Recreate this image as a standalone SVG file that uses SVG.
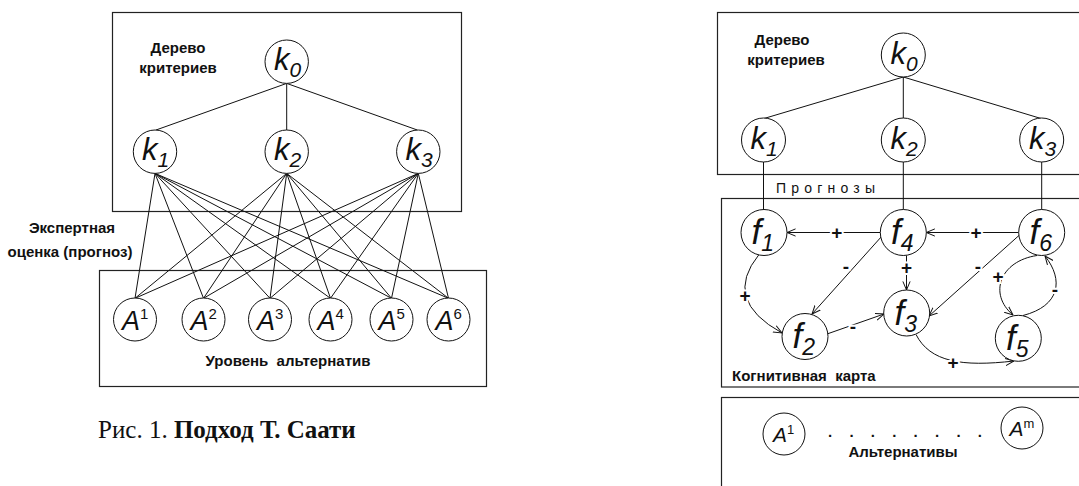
<svg xmlns="http://www.w3.org/2000/svg" width="1079" height="486" viewBox="0 0 1079 486">
  <style>
    .box { fill: none; stroke: #222; stroke-width: 1.2; }
    .node { fill: #fff; stroke: #111; stroke-width: 1; }
    .edge { fill: none; stroke: #111; stroke-width: 1; }
    .arr { fill: none; stroke: #111; stroke-width: 1; marker-end: url(#open); }
    .lbl { font-family: "Liberation Sans", Arial, sans-serif; font-weight: bold; font-size: 15px; fill: #111; }
    .sign { font-family: "Liberation Sans", Arial, sans-serif; font-weight: bold; font-size: 19px; fill: #111; text-anchor: middle; stroke: #fff; stroke-width: 4; paint-order: stroke; }
    .kv { font-family: "Liberation Sans", Arial, sans-serif; font-style: italic; font-size: 31px; fill: #111; }
    .sub { font-size: 21px; }
    .fv { font-family: "Liberation Sans", Arial, sans-serif; font-style: italic; font-size: 35px; fill: #111; }
    .fsub { font-size: 23px; }
    .av { font-family: "Liberation Sans", Arial, sans-serif; font-style: italic; font-size: 27px; fill: #111; }
    .avs { font-family: "Liberation Sans", Arial, sans-serif; font-style: italic; font-size: 21px; fill: #111; }
    .sup { font-style: normal; font-size: 15px; }
    .sups { font-style: normal; font-size: 13px; }
    .cap { font-family: "Liberation Serif", "Times New Roman", serif; font-size: 25px; fill: #111; }
  </style>
  <defs>
    <marker id="open" viewBox="0 0 10 10" refX="9.5" refY="5" markerWidth="9" markerHeight="9" markerUnits="userSpaceOnUse" orient="auto">
      <path d="M0,1 L9.5,5 L0,9" fill="none" stroke="#111" stroke-width="1.1"/>
    </marker>
  </defs>
  <rect width="1079" height="486" fill="#fff"/>

  <!-- ===== Left: Saaty hierarchy ===== -->
  <g id="saaty-frames">
    <rect class="box" x="112.5" y="12.5" width="349" height="199"/>
    <rect class="box" x="99.5" y="270.5" width="387" height="116"/>
    <text class="lbl" x="178" y="53" text-anchor="middle">Дерево</text>
    <text class="lbl" x="178" y="73" text-anchor="middle">критериев</text>
    <text class="lbl" x="72" y="233" text-anchor="middle" font-size="15.5">Экспертная</text>
    <text class="lbl" x="70" y="257" text-anchor="middle" font-size="15.5">оценка (прогноз)</text>
    <text class="lbl" x="288" y="366" text-anchor="middle" font-size="14" xml:space="preserve">Уровень  альтернатив</text>
  </g>

  <g id="saaty-connectors">
    <line class="edge" x1="286.7" y1="83.4" x2="156" y2="130"/>
    <line class="edge" x1="286.7" y1="83.4" x2="286.7" y2="130"/>
    <line class="edge" x1="286.7" y1="83.4" x2="417.3" y2="130"/>
    <!-- k1 to every alternative -->
    <path class="edge" d="M155,173.4 L135,298.3 M155,173.4 L203.5,298.3 M155,173.4 L270,298.3 M155,173.4 L330.5,298.3 M155,173.4 L391.5,298.3 M155,173.4 L448.5,298.3"/>
    <!-- k2 to every alternative -->
    <path class="edge" d="M286.7,173.4 L135,298.3 M286.7,173.4 L203.5,298.3 M286.7,173.4 L270,298.3 M286.7,173.4 L330.5,298.3 M286.7,173.4 L391.5,298.3 M286.7,173.4 L448.5,298.3"/>
    <!-- k3 to every alternative -->
    <path class="edge" d="M418.3,173.4 L135,298.3 M418.3,173.4 L203.5,298.3 M418.3,173.4 L270,298.3 M418.3,173.4 L330.5,298.3 M418.3,173.4 L391.5,298.3 M418.3,173.4 L448.5,298.3"/>
  </g>

  <g id="saaty-k0"><circle class="node" cx="286.7" cy="61.7" r="21.7"/><text class="kv" x="274" y="70">k<tspan class="sub" dy="7">0</tspan></text></g>
  <g id="saaty-k1"><circle class="node" cx="155" cy="151.7" r="21.7"/><text class="kv" x="142" y="160">k<tspan class="sub" dy="7">1</tspan></text></g>
  <g id="saaty-k2"><circle class="node" cx="286.7" cy="151.7" r="21.7"/><text class="kv" x="274" y="160">k<tspan class="sub" dy="7">2</tspan></text></g>
  <g id="saaty-k3"><circle class="node" cx="418.3" cy="151.7" r="21.7"/><text class="kv" x="405.5" y="160">k<tspan class="sub" dy="7">3</tspan></text></g>

  <g id="saaty-a1"><circle class="node" cx="135" cy="319.5" r="21.5"/><text class="av" x="122" y="330">A<tspan class="sup" dy="-11">1</tspan></text></g>
  <g id="saaty-a2"><circle class="node" cx="203.5" cy="319.5" r="21.5"/><text class="av" x="190.5" y="330">A<tspan class="sup" dy="-11">2</tspan></text></g>
  <g id="saaty-a3"><circle class="node" cx="270" cy="319.5" r="21.5"/><text class="av" x="257" y="330">A<tspan class="sup" dy="-11">3</tspan></text></g>
  <g id="saaty-a4"><circle class="node" cx="330.5" cy="319.5" r="21.5"/><text class="av" x="317.5" y="330">A<tspan class="sup" dy="-11">4</tspan></text></g>
  <g id="saaty-a5"><circle class="node" cx="391.5" cy="319.5" r="21.5"/><text class="av" x="378.5" y="330">A<tspan class="sup" dy="-11">5</tspan></text></g>
  <g id="saaty-a6"><circle class="node" cx="448.5" cy="319.5" r="21.5"/><text class="av" x="435.5" y="330">A<tspan class="sup" dy="-11">6</tspan></text></g>

  <text class="cap" x="98" y="438">Рис. 1. <tspan font-weight="bold">Подход Т. Саати</tspan></text>

  <!-- ===== Right: criteria tree + cognitive map + alternatives ===== -->
  <g id="map-frames">
    <rect class="box" x="717.5" y="12.5" width="400" height="162"/>
    <rect class="box" x="721.5" y="198.5" width="400" height="188.5"/>
    <rect class="box" x="721.5" y="397.5" width="400" height="100"/>
    <text class="lbl" x="782" y="45" text-anchor="middle" font-size="15.5">Дерево</text>
    <text class="lbl" x="786" y="65" text-anchor="middle" font-size="15.5">критериев</text>
    <text x="776" y="193" font-family="Liberation Sans, Arial, sans-serif" font-size="14" letter-spacing="5.2" fill="#111">Прогнозы</text>
    <text class="lbl" x="732" y="381" xml:space="preserve">Когнитивная  карта</text>
    <text class="lbl" x="903" y="457" text-anchor="middle">Альтернативы</text>
    <text class="lbl" y="437" x="828 849.4 870.8 892.2 913.6 935 956.4 977.8">........</text>
  </g>

  <g id="map-connectors">
    <line class="edge" x1="903.3" y1="77" x2="764" y2="118.5"/>
    <line class="edge" x1="903.3" y1="77" x2="903.3" y2="118.5"/>
    <line class="edge" x1="903.3" y1="77" x2="1041" y2="118.5"/>
    <line class="edge" x1="763.5" y1="162" x2="763.5" y2="209.5"/>
    <line class="edge" x1="903.3" y1="162" x2="903.3" y2="209.5"/>
    <line class="edge" x1="1041.7" y1="162" x2="1041.7" y2="209.5"/>

    <line class="arr" x1="880.3" y1="232.5" x2="787" y2="232.5"/>
    <line class="arr" x1="1018.7" y1="232.5" x2="926.3" y2="232.5"/>
    <line class="arr" x1="882" y1="236" x2="812" y2="314"/>
    <line class="arr" x1="906.5" y1="255.5" x2="906.5" y2="290"/>
    <line class="arr" x1="1019.5" y1="235" x2="929" y2="316"/>
    <line class="arr" x1="827" y1="334" x2="884" y2="314"/>
    <path class="arr" d="M759,254.5 Q 722,300 782,333"/>
    <path class="arr" d="M916,334.5 C 930,362 962,367 1014,361"/>
    <path class="arr" d="M1037,255.5 C 1000,261 988,294 1013,315"/>
    <path class="arr" d="M1023,315.5 C 1060,306 1064,280 1045,256"/>

    <text class="sign" x="836.7" y="239">+</text>
    <text class="sign" x="976" y="239">+</text>
    <text class="sign" x="846" y="273">-</text>
    <text class="sign" x="906.5" y="274">+</text>
    <text class="sign" x="978" y="273">-</text>
    <text class="sign" x="853" y="333">-</text>
    <text class="sign" x="745" y="302">+</text>
    <text class="sign" x="953" y="369">+</text>
    <text class="sign" x="998" y="283">+</text>
    <text class="sign" x="1055" y="296">-</text>
  </g>

  <g id="map-k0"><circle class="node" cx="903.3" cy="55" r="22"/><text class="kv" x="890.5" y="63.5">k<tspan class="sub" dy="7">0</tspan></text></g>
  <g id="map-k1"><circle class="node" cx="763.5" cy="140" r="22"/><text class="kv" x="750.5" y="148.5">k<tspan class="sub" dy="7">1</tspan></text></g>
  <g id="map-k2"><circle class="node" cx="903.3" cy="140" r="22"/><text class="kv" x="890.5" y="148.5">k<tspan class="sub" dy="7">2</tspan></text></g>
  <g id="map-k3"><circle class="node" cx="1041.7" cy="140" r="22"/><text class="kv" x="1029" y="148.5">k<tspan class="sub" dy="7">3</tspan></text></g>

  <g id="map-f1"><circle class="node" cx="764" cy="232.5" r="23"/><text class="fv" x="751.5" y="244">f<tspan class="fsub" dy="7">1</tspan></text></g>
  <g id="map-f4"><circle class="node" cx="903.3" cy="232.5" r="23"/><text class="fv" x="891" y="244">f<tspan class="fsub" dy="7">4</tspan></text></g>
  <g id="map-f6"><circle class="node" cx="1041.7" cy="232.5" r="23"/><text class="fv" x="1029.5" y="244">f<tspan class="fsub" dy="7">6</tspan></text></g>
  <g id="map-f2"><circle class="node" cx="805" cy="336.5" r="23"/><text class="fv" x="792.5" y="348">f<tspan class="fsub" dy="7">2</tspan></text></g>
  <g id="map-f3"><circle class="node" cx="906.7" cy="313" r="23"/><text class="fv" x="894.5" y="324.5">f<tspan class="fsub" dy="7">3</tspan></text></g>
  <g id="map-f5"><circle class="node" cx="1018.3" cy="338.3" r="23"/><text class="fv" x="1006" y="350">f<tspan class="fsub" dy="7">5</tspan></text></g>

  <g id="map-a1"><circle class="node" cx="784" cy="434" r="21"/><text class="avs" x="773" y="442">A<tspan class="sups" dy="-8">1</tspan></text></g>
  <g id="map-am"><circle class="node" cx="1022" cy="428" r="21"/><text class="avs" x="1009.5" y="436">A<tspan class="sups" dy="-8">m</tspan></text></g>
</svg>
